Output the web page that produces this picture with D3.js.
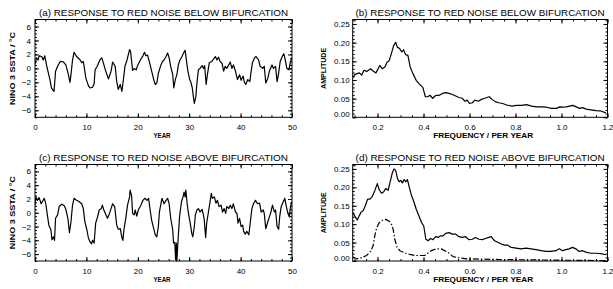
<!DOCTYPE html>
<html>
<head>
<meta charset="utf-8">
<script src="https://cdn.jsdelivr.net/npm/d3@7"></script>
<style>
  body { margin: 0; background: #fff; }
  svg { display: block; }
  text { font-family: "Liberation Sans", Arial, sans-serif; fill: #000; }
</style>
</head>
<body>
<svg id="chart" width="613" height="289"></svg>
<script>
// Data

// (a) Nino 3 SSTA, below bifurcation
const yearA = [0,0.3,0.6,0.8,1.3,1.6,1.9,2.3,2.9,3.2,3.5,3.7,4.0,4.4,4.9,5.5,6.0,6.5,6.8,7.0,7.3,7.6,8.1,8.8,9.1,9.4,9.9,10.4,10.7,11.2,11.5,11.7,12.1,12.7,13.0,13.3,13.6,13.9,14.3,14.8,15.1,15.6,15.9,16.2,16.6,16.9,17.2,17.5,17.9,18.4,18.6,18.8,19.0,19.3,19.7,19.9,20.5,21.0,21.3,21.6,21.9,22.3,22.7,23.1,23.4,23.7,24.0,24.5,24.8,25.1,25.5,25.8,26.1,26.4,26.8,27.0,27.3,27.6,27.9,28.2,28.6,28.9,29.2,29.4,29.7,30.1,30.3,30.6,30.8,31.0,31.3,31.5,31.8,32.1,32.5,32.8,33.0,33.3,33.5,33.9,34.4,35.1,35.4,35.7,36.0,36.4,36.7,37.0,37.3,37.7,38.0,38.3,38.6,39.0,39.4,39.8,40.1,40.5,40.7,41.0,41.4,41.8,42.0,42.3,42.7,43.0,43.5,43.8,44.3,44.6,44.9,45.3,45.6,46.1,46.4,46.8,47.1,47.4,47.7,48.1,48.4,48.7,49.0,49.4,49.7,50.0];
const sstaA = [0.6,1.5,1.2,1.8,1.7,1.2,1.8,0.3,-1.6,-2.8,-3.1,-3.3,-0.4,0.3,1.0,0.95,0.5,-0.9,-2.0,-0.9,1.2,2.3,1.7,1.2,0.8,1.0,-1.4,-2.5,-2.8,-2.7,-2.2,-0.2,0.3,1.3,1.5,0.8,0.0,-0.7,-1.5,-0.4,0.9,0.3,-1.9,-3.0,-2.3,-3.3,-1.6,0.3,1.2,2.7,2.4,1.0,-0.3,0.0,-0.2,0.3,1.2,1.8,2.3,1.8,1.9,0.8,-0.4,-1.6,-2.3,-2.1,-0.7,0.5,1.0,1.2,1.7,2.2,1.5,0.3,-0.9,-2.8,-1.6,-0.9,0.5,1.2,1.7,2.2,2.6,1.5,-0.2,-1.6,-1.9,-2.8,-4.0,-5.0,-4.0,-2.1,-0.2,0.0,0.4,0.0,0.4,-2.3,-1.1,0.8,1.0,1.7,1.2,1.6,1.0,0.7,-0.4,0.3,0.0,0.5,0.9,0.0,0.5,-0.4,-1.6,-0.9,-1.7,-1.1,-1.9,-2.3,-1.6,-1.9,-0.7,0.8,1.5,1.7,1.2,0.3,0.0,0.3,-2.1,-1.4,-0.4,0.5,0.0,0.3,-1.9,-0.7,1.0,1.7,2.1,1.2,0.0,-0.2,1.0,1.5];

// (c) Nino 3 SSTA, above bifurcation
const yearC = [0,0.2,0.45,0.8,1.2,1.5,1.8,2.1,2.4,2.7,3.1,3.3,3.6,3.8,4.0,4.4,4.7,5.2,5.7,6.0,6.4,6.7,7.0,7.3,7.6,8.1,8.6,9.1,9.4,9.7,10.1,10.4,10.7,11.0,11.2,11.5,11.8,12.1,12.5,12.9,13.1,13.4,13.8,14.1,14.5,14.8,15.1,15.5,15.9,16.2,16.6,16.9,17.1,17.3,17.7,18.0,18.4,18.5,18.8,19.0,19.3,19.5,19.8,20.1,20.6,21.0,21.4,21.8,22.1,22.4,22.7,23.1,23.4,23.7,24.0,24.2,24.5,24.7,25.1,25.5,25.8,26.1,26.4,26.8,26.95,27.2,27.35,27.5,27.6,27.8,28.1,28.2,28.5,28.8,29.0,29.2,29.35,29.6,29.9,30.2,30.5,30.7,31.0,31.2,31.5,31.8,32.1,32.5,32.7,32.9,33.2,33.4,33.8,34.1,34.3,34.5,34.9,35.2,35.5,35.8,36.2,36.5,36.8,37.1,37.3,37.7,38.0,38.3,38.6,39.0,39.3,39.5,39.8,40.1,40.4,40.6,40.9,41.2,41.6,41.9,42.2,42.5,42.9,43.3,43.7,44.0,44.4,44.6,44.9,45.3,45.6,45.9,46.2,46.6,46.8,47.1,47.4,47.6,47.9,48.3,48.6,48.9,49.2,49.5,49.7,50.0];
const sstaC = [1.1,2.3,1.8,2.2,1.3,1.7,2.1,1.3,-0.3,-1.8,-2.5,-3.9,-3.5,-4.0,-0.8,-0.3,0.9,1.25,1.0,0.5,-0.8,-2.9,-1.3,1.1,2.1,1.8,1.6,1.3,0.6,-1.3,-2.5,-3.7,-4.2,-4.5,-4.0,-4.4,-1.5,-0.8,0.4,0.6,1.1,0.4,-0.3,-0.8,-0.1,0.6,1.3,0.9,-1.8,-2.4,-2.3,-3.6,-4.0,-2.5,-0.6,1.1,2.3,3.3,2.4,-0.1,-0.3,0.4,-0.5,0.4,1.1,1.8,2.1,1.8,2.1,0.4,-1.1,-2.3,-3.2,-3.5,-2.0,0.1,1.3,2.1,1.3,1.8,2.1,1.3,-0.8,-2.5,-4.4,-4.3,-6.8,-4.4,-7.0,-4.4,-0.8,-0.1,1.6,2.3,3.0,2.3,3.3,1.3,-0.3,-1.5,-3.0,-3.5,-2.0,-0.3,0.4,0.6,0.1,0.5,-0.1,-0.8,-3.6,-1.5,0.4,1.8,2.8,2.1,2.3,1.4,1.8,0.9,1.1,0.1,0.6,-0.1,0.9,0.6,1.1,0.6,1.3,0.1,-0.1,-1.5,-0.8,-2.0,-1.8,-2.7,-3.1,-2.7,-3.2,-1.3,0.6,1.3,1.8,1.3,1.4,0.1,0.4,-0.1,-2.3,-1.3,-0.6,0.1,1.1,0.1,0.4,-2.0,-2.4,-0.6,0.9,1.6,2.1,0.9,-0.1,-0.6,0.9,1.6];

// (b) amplitude spectrum, below bifurcation
const freqB = [0.092,0.102,0.121,0.131,0.141,0.153,0.170,0.181,0.193,0.210,0.220,0.232,0.242,0.250,0.260,0.270,0.279,0.286,0.296,0.306,0.313,0.322,0.332,0.342,0.354,0.368,0.382,0.397,0.408,0.418,0.428,0.440,0.454,0.468,0.483,0.497,0.511,0.526,0.540,0.554,0.569,0.580,0.590,0.600,0.612,0.623,0.638,0.652,0.666,0.676,0.686,0.698,0.712,0.727,0.744,0.762,0.784,0.805,0.827,0.848,0.870,0.892,0.913,0.935,0.956,0.978,0.992,1.006,1.021,1.035,1.049,1.064,1.078,1.092,1.107,1.128,1.150,1.171,1.193];
const ampB = [0.106,0.115,0.119,0.113,0.126,0.123,0.130,0.124,0.119,0.139,0.130,0.135,0.148,0.151,0.170,0.192,0.201,0.188,0.184,0.175,0.181,0.168,0.166,0.135,0.117,0.099,0.089,0.080,0.055,0.055,0.059,0.051,0.059,0.059,0.064,0.066,0.064,0.061,0.057,0.053,0.051,0.043,0.046,0.037,0.039,0.046,0.043,0.048,0.051,0.053,0.055,0.048,0.042,0.039,0.037,0.033,0.030,0.032,0.032,0.034,0.030,0.028,0.028,0.027,0.024,0.024,0.028,0.027,0.028,0.030,0.032,0.028,0.024,0.026,0.022,0.020,0.018,0.017,0.012];

// (d) amplitude spectrum, above bifurcation (solid)
const freqD = [0.092,0.102,0.112,0.119,0.128,0.138,0.148,0.157,0.167,0.177,0.188,0.199,0.207,0.217,0.227,0.236,0.246,0.253,0.265,0.272,0.279,0.287,0.294,0.301,0.308,0.316,0.323,0.330,0.337,0.347,0.358,0.369,0.381,0.391,0.401,0.410,0.420,0.430,0.441,0.453,0.463,0.473,0.485,0.496,0.511,0.525,0.540,0.554,0.568,0.583,0.597,0.612,0.626,0.641,0.655,0.670,0.684,0.694,0.709,0.723,0.738,0.752,0.766,0.781,0.803,0.824,0.846,0.868,0.889,0.911,0.933,0.954,0.976,0.990,1.005,1.019,1.033,1.048,1.062,1.077,1.092,1.106,1.128,1.150,1.171,1.193];
const ampD = [0.132,0.121,0.111,0.121,0.132,0.137,0.152,0.168,0.168,0.175,0.191,0.210,0.194,0.184,0.188,0.197,0.192,0.210,0.241,0.250,0.246,0.223,0.215,0.219,0.212,0.221,0.215,0.221,0.203,0.179,0.161,0.139,0.121,0.105,0.095,0.059,0.055,0.061,0.058,0.066,0.064,0.068,0.068,0.075,0.077,0.073,0.073,0.066,0.064,0.066,0.058,0.059,0.064,0.059,0.058,0.061,0.064,0.066,0.055,0.051,0.046,0.043,0.043,0.037,0.035,0.033,0.035,0.033,0.031,0.028,0.026,0.026,0.028,0.033,0.028,0.031,0.033,0.037,0.033,0.026,0.028,0.024,0.021,0.021,0.020,0.017];

// (d) second curve (dash-dot)
const freqD2 = [0.092,0.109,0.131,0.152,0.170,0.181,0.188,0.196,0.207,0.222,0.236,0.251,0.261,0.268,0.275,0.285,0.297,0.318,0.340,0.362,0.384,0.405,0.420,0.434,0.456,0.477,0.499,0.514,0.528,0.550,0.586,0.658,0.730,0.875,1.019,1.193];
const ampD2 = [0.011,0.006,0.009,0.015,0.026,0.042,0.068,0.090,0.104,0.111,0.113,0.108,0.099,0.086,0.059,0.037,0.028,0.022,0.018,0.015,0.015,0.015,0.022,0.028,0.033,0.033,0.026,0.020,0.012,0.009,0.006,0.005,0.004,0.003,0.002,0.001];

// Titles and axis labels
const titles = [
  "(a) RESPONSE TO RED NOISE BELOW BIFURCATION",
  "(b) RESPONSE TO RED NOISE BELOW BIFURCATION",
  "(c) RESPONSE TO RED NOISE ABOVE BIFURCATION",
  "(d) RESPONSE TO RED NOISE ABOVE BIFURCATION"
];
const yearTicks = [0, 10, 20, 30, 40, 50];
const sstaTicks = [-6, -4, -2, 0, 2, 4, 6];
const freqTicks = [0.2, 0.4, 0.6, 0.8, 1.0, 1.2];
const ampTicks = [0, 0.05, 0.10, 0.15, 0.20, 0.25];

const svg = d3.select("#chart");

// Panel frames (pixels)
const frames = [
  { left: 35,  right: 292,   top: 19.5,  bottom: 117.3 },
  { left: 352.7, right: 607.5, top: 19.5, bottom: 117.3 },
  { left: 35,  right: 292,   top: 164.5, bottom: 261 },
  { left: 352.7, right: 607.5, top: 164.5, bottom: 261 }
];

function drawPanel(i, cfg) {
  const f = frames[i];
  const w = f.right - f.left, h = f.bottom - f.top;
  const g = svg.append("g").attr("transform", `translate(${f.left},${f.top})`);

  const x = d3.scaleLinear().domain(cfg.xDomain).range([0, w]);
  const y = d3.scaleLinear().domain(cfg.yDomain).range([h, 0]);

  const minorX = d3.range(Math.ceil(cfg.xDomain[0] / cfg.xMinor) * cfg.xMinor, cfg.xDomain[1] + 1e-9, cfg.xMinor);
  const minorY = d3.range(Math.ceil(cfg.yDomain[0] / cfg.yMinor) * cfg.yMinor, cfg.yDomain[1] + 1e-9, cfg.yMinor);

  // minor ticks on all four sides
  const minors = [
    [d3.axisBottom(x).tickValues(minorX), `translate(0,${h})`],
    [d3.axisTop(x).tickValues(minorX), null],
    [d3.axisLeft(y).tickValues(minorY), null],
    [d3.axisRight(y).tickValues(minorY), `translate(${w},0)`]
  ];
  minors.forEach(([ax, tr]) => {
    const a = g.append("g").call(ax.tickSize(-2).tickSizeOuter(0).tickFormat(""));
    if (tr) a.attr("transform", tr);
    a.select(".domain").remove();
  });

  // major ticks, labelled on bottom and left
  const xb = g.append("g").attr("transform", `translate(0,${h})`)
    .call(d3.axisBottom(x).tickValues(cfg.xTicks).tickFormat(cfg.xFmt).tickSize(-4).tickSizeOuter(0).tickPadding(7));
  const yl = g.append("g")
    .call(d3.axisLeft(y).tickValues(cfg.yTicks).tickFormat(cfg.yFmt).tickSize(-4).tickSizeOuter(0).tickPadding(cfg.yPad));
  g.append("g").call(d3.axisTop(x).tickValues(cfg.xTicks).tickSize(-4).tickSizeOuter(0).tickFormat(""));
  g.append("g").attr("transform", `translate(${w},0)`)
    .call(d3.axisRight(y).tickValues(cfg.yTicks).tickSize(-4).tickSizeOuter(0).tickFormat(""));

  g.selectAll(".domain").remove();
  g.selectAll(".tick line").attr("stroke", "#000").attr("stroke-width", 1);
  [xb, yl].forEach(a => a.attr("font-size", 8).attr("font-family", null));
  if (cfg.liftZero) {
    yl.selectAll(".tick text").filter(d => d === 0).attr("dy", "-0.05em");
  }

  // frame
  g.append("rect").attr("width", w).attr("height", h)
    .attr("fill", "none").attr("stroke", "#000").attr("stroke-width", 1);

  // curves
  const clipId = "clip" + i;
  g.append("clipPath").attr("id", clipId).append("rect")
    .attr("x", 0).attr("y", -1).attr("width", w).attr("height", h + 2);
  cfg.series.forEach(s => {
    const line = d3.line().x((d, k) => x(s.x[k])).y((d, k) => y(s.y[k]));
    g.append("path").datum(s.y)
      .attr("d", line)
      .attr("clip-path", `url(#${clipId})`)
      .attr("fill", "none")
      .attr("stroke", "#000")
      .attr("stroke-width", 1.2)
      .attr("stroke-linejoin", "round")
      .attr("stroke-dasharray", s.dash || null);
  });

  // title
  g.append("text")
    .attr("x", w / 2).attr("y", -3.5)
    .attr("text-anchor", "middle")
    .attr("font-size", 9.5)
    .attr("textLength", 249).attr("lengthAdjust", "spacingAndGlyphs")
    .text(titles[i]);

  // x label
  g.append("text")
    .attr("x", cfg.xLabelX).attr("y", h + 21)
    .attr("text-anchor", "middle")
    .attr("font-size", 7).attr("font-weight", "bold")
    .attr("textLength", cfg.xLabelLen).attr("lengthAdjust", "spacingAndGlyphs")
    .text(cfg.xLabel);

  // y label
  g.append("text")
    .attr("transform", `translate(${cfg.yLabelX},${h / 2}) rotate(-90)`)
    .attr("text-anchor", "middle")
    .attr("font-size", 7).attr("font-weight", "bold")
    .attr("textLength", cfg.yLabelLen).attr("lengthAdjust", "spacingAndGlyphs")
    .text(cfg.yLabel);
}

const timeCfg = {
  xDomain: [0, 50], yDomain: [-7, 7],
  xTicks: yearTicks, yTicks: sstaTicks,
  xMinor: 2, yMinor: 0.5,
  xFmt: d3.format("d"), yFmt: d3.format("d"), yPad: 4,
  xLabel: "YEAR", xLabelX: 127, xLabelLen: 17,
  yLabel: "NINO 3 SSTA / \u00B0C", yLabelX: -20, yLabelLen: 73
};
const specCfg = {
  xDomain: [0.092, 1.2], yDomain: [0, 0.262],
  xTicks: freqTicks, yTicks: ampTicks,
  xMinor: 0.05, yMinor: 0.01,
  xFmt: d3.format(".1f"), yFmt: d3.format(".2f"), yPad: 3, liftZero: true,
  xLabel: "FREQUENCY / PER YEAR", xLabelX: 130.5, xLabelLen: 100,
  yLabel: "AMPLITUDE", yLabelX: -26.7, yLabelLen: 41
};

drawPanel(0, { ...timeCfg, series: [{ x: yearA, y: sstaA }] });
drawPanel(1, { ...specCfg, series: [{ x: freqB, y: ampB }] });
drawPanel(2, { ...timeCfg, series: [{ x: yearC, y: sstaC }] });
drawPanel(3, { ...specCfg, series: [
  { x: freqD, y: ampD },
  { x: freqD2, y: ampD2, dash: "6,2,1.5,2" }
] });
</script>
</body>
</html>
